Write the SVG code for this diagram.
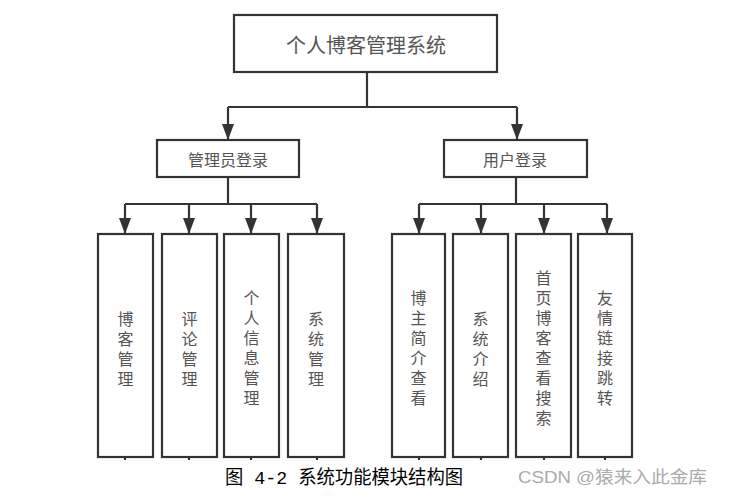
<svg xmlns="http://www.w3.org/2000/svg" width="730" height="497" viewBox="0 0 730 497">
<style>
.box{fill:#fff;stroke:#333;stroke-width:2.2}
.t{font-family:"Noto Sans CJK SC","Liberation Sans",sans-serif;fill:#555;text-anchor:middle;dominant-baseline:central}
.line{fill:none;stroke:#333;stroke-width:2.2}
</style>
<defs>
<marker id="arr" markerUnits="userSpaceOnUse" viewBox="0 0 16 12" refX="16" refY="6" markerWidth="16" markerHeight="12" orient="auto">
<path d="M0,0 L16,6 L0,12 z" fill="#333"/>
</marker>
</defs>
<rect width="730" height="497" fill="#fff"/>
<g id="connectors">
<path class="line" d="M367,72 V107"/>
<path class="line" d="M228,107 H517"/>
<path class="line" d="M228,107 V140" marker-end="url(#arr)"/>
<path class="line" d="M517,107 V140" marker-end="url(#arr)"/>
<path class="line" d="M228,177 V204"/>
<path class="line" d="M125,204 H317"/>
<path class="line" d="M125,204 V234" marker-end="url(#arr)"/>
<path class="line" d="M189,204 V234" marker-end="url(#arr)"/>
<path class="line" d="M251,204 V234" marker-end="url(#arr)"/>
<path class="line" d="M317,204 V234" marker-end="url(#arr)"/>
<path class="line" d="M516,177 V204"/>
<path class="line" d="M419,204 H607"/>
<path class="line" d="M419,204 V234" marker-end="url(#arr)"/>
<path class="line" d="M481,204 V234" marker-end="url(#arr)"/>
<path class="line" d="M544,204 V234" marker-end="url(#arr)"/>
<path class="line" d="M607,204 V234" marker-end="url(#arr)"/>
<path class="line" d="M125,457 V460 M189,457 V460 M251,457 V460 M317,457 V460 M419,457 V460 M481,457 V460 M544,457 V460 M605,457 V460"/>
</g>
<g id="root">
<rect class="box" x="234" y="15" width="263" height="57"/>
<text class="t" x="366" y="44" font-size="20">个人博客管理系统</text>
</g>
<g id="admin">
<rect class="box" x="157" y="140" width="142" height="37"/>
<text class="t" x="228" y="159" font-size="16">管理员登录</text>
</g>
<g id="user">
<rect class="box" x="444" y="140" width="143" height="37"/>
<text class="t" x="515" y="159" font-size="16">用户登录</text>
</g>
<g id="n1">
<rect class="box" x="98" y="234" width="55" height="223"/>
<text class="t" font-size="16"><tspan x="125.5" y="318">博</tspan><tspan x="125.5" y="338">客</tspan><tspan x="125.5" y="358">管</tspan><tspan x="125.5" y="378">理</tspan></text>
</g>
<g id="n2">
<rect class="box" x="162" y="234" width="55" height="223"/>
<text class="t" font-size="16"><tspan x="189.5" y="318">评</tspan><tspan x="189.5" y="338">论</tspan><tspan x="189.5" y="358">管</tspan><tspan x="189.5" y="378">理</tspan></text>
</g>
<g id="n3">
<rect class="box" x="224" y="234" width="55" height="223"/>
<text class="t" font-size="16"><tspan x="251.5" y="297">个</tspan><tspan x="251.5" y="317">人</tspan><tspan x="251.5" y="337">信</tspan><tspan x="251.5" y="357">息</tspan><tspan x="251.5" y="377">管</tspan><tspan x="251.5" y="397">理</tspan></text>
</g>
<g id="n4">
<rect class="box" x="288" y="234" width="56" height="223"/>
<text class="t" font-size="16"><tspan x="316" y="318">系</tspan><tspan x="316" y="338">统</tspan><tspan x="316" y="358">管</tspan><tspan x="316" y="378">理</tspan></text>
</g>
<g id="n5">
<rect class="box" x="392" y="234" width="53" height="223"/>
<text class="t" font-size="16"><tspan x="418.5" y="297">博</tspan><tspan x="418.5" y="317">主</tspan><tspan x="418.5" y="337">简</tspan><tspan x="418.5" y="357">介</tspan><tspan x="418.5" y="377">查</tspan><tspan x="418.5" y="397">看</tspan></text>
</g>
<g id="n6">
<rect class="box" x="453" y="234" width="55" height="223"/>
<text class="t" font-size="16"><tspan x="480.5" y="318">系</tspan><tspan x="480.5" y="338">统</tspan><tspan x="480.5" y="358">介</tspan><tspan x="480.5" y="378">绍</tspan></text>
</g>
<g id="n7">
<rect class="box" x="516" y="234" width="55" height="223"/>
<text class="t" font-size="16"><tspan x="543.5" y="277">首</tspan><tspan x="543.5" y="297">页</tspan><tspan x="543.5" y="317">博</tspan><tspan x="543.5" y="337">客</tspan><tspan x="543.5" y="357">查</tspan><tspan x="543.5" y="377">看</tspan><tspan x="543.5" y="397">搜</tspan><tspan x="543.5" y="417">索</tspan></text>
</g>
<g id="n8">
<rect class="box" x="578" y="234" width="54" height="223"/>
<text class="t" font-size="16"><tspan x="605" y="297">友</tspan><tspan x="605" y="317">情</tspan><tspan x="605" y="337">链</tspan><tspan x="605" y="357">接</tspan><tspan x="605" y="377">跳</tspan><tspan x="605" y="397">转</tspan></text>
</g>
<text x="225" y="484" font-size="19" textLength="238" lengthAdjust="spacingAndGlyphs" font-family="'Liberation Mono','Noto Sans CJK SC',monospace" fill="#000">图 4-2 系统功能模块结构图</text>
<text x="518" y="483" font-size="17" textLength="189" lengthAdjust="spacingAndGlyphs" font-family="'Liberation Sans','Noto Sans CJK SC',sans-serif" fill="#aaa">CSDN @猿来入此金库</text>
</svg>
